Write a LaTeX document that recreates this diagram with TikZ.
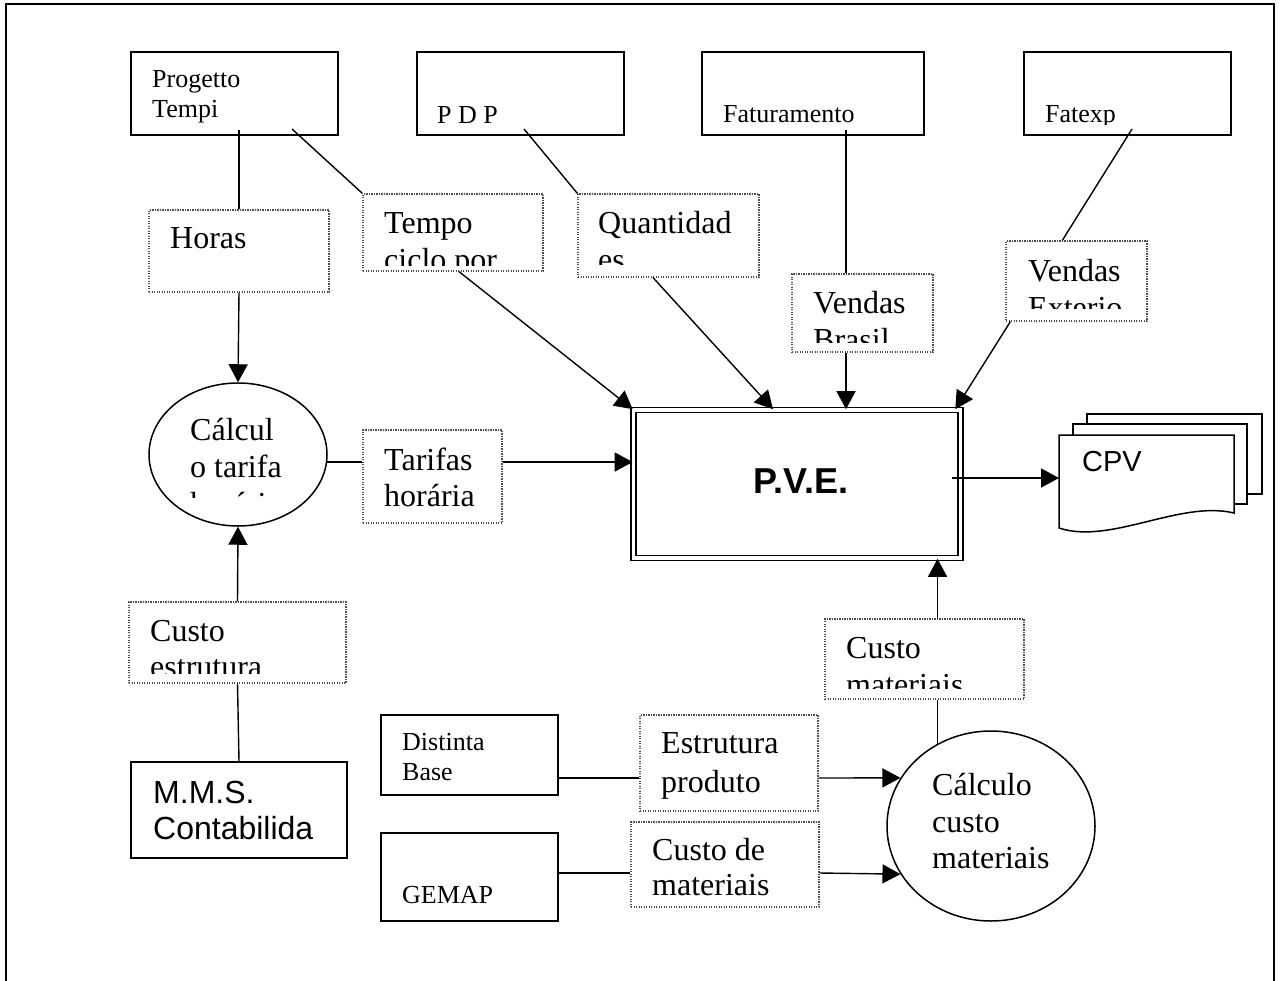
\documentclass[tikz,border=0pt]{standalone}
\usepackage{fontspec}
\setmainfont{Liberation Serif}
\setsansfont{Liberation Sans}
\usetikzlibrary{arrows.meta,shapes.geometric,calc}

% rectangle node from its two corners: style, name, x1, y1, x2, y2
\newcommand\rectnode[6]{%
  \pgfmathsetmacro\rw{#5-#3}\pgfmathsetmacro\rh{#6-#4}%
  \node[#1,minimum width=\rw pt,minimum height=\rh pt] (#2) at ({(#3+#5)/2},{(#4+#6)/2}) {};}
% one line of text, placed by its baseline start: style, name, x, y, text
\newcommand\tline[5]{\node[txt,#1] (#2) at (#3,#4) {#5};}

\begin{document}
\begin{tikzpicture}[x=1pt,y=-1pt,
  srcbox/.style={draw,line width=1.6pt,rectangle,inner sep=0pt},
  flowlbl/.style={draw=black!70,line width=1.2pt,dash pattern=on 1.2pt off 1.3pt,rectangle,inner sep=0pt},
  proc/.style={draw,line width=1.5pt,ellipse,inner sep=0pt},
  wire/.style={line width=1.4pt},
  flow/.style={line width=1.4pt,-{Triangle[length=18pt,width=19pt]}},
  txt/.style={anchor=base west,inner sep=0pt},
  small/.style={font=\fontsize{26}{30}\selectfont},
  big/.style={font=\fontsize{32}{37}\selectfont},
  sans/.style={font=\sffamily\fontsize{32}{37}\selectfont},
]
\useasboundingbox (0,0) rectangle (1282,980);

% page frame, open at the bottom
\draw[line width=2.2pt] (6,990) -- (6,4) -- (1274,4) -- (1274,990);

% ---- source systems ----
\rectnode{srcbox}{progetto}{131}{52}{338}{135}
\tline{small}{progetto-t1}{152}{87}{Progetto}
\tline{small}{progetto-t2}{152}{117}{Tempi}

\rectnode{srcbox}{pdp}{417}{52}{624}{135}
\tline{small}{pdp-t}{437}{123}{P D P}

\rectnode{srcbox}{fatur}{702}{52}{924}{135}
\tline{small}{fatur-t}{723}{122}{Faturamento}

\rectnode{srcbox}{fatexp}{1024}{52}{1231}{135}
\begin{scope}
  \clip (1024,52) rectangle (1231,124);
  \tline{small}{fatexp-t}{1045}{122}{Fatexp}
\end{scope}

\rectnode{srcbox}{distinta}{381}{715}{558}{795}
\tline{small}{distinta-t1}{402}{750}{Distinta}
\tline{small}{distinta-t2}{402}{780}{Base}

\rectnode{srcbox}{gemap}{381}{833}{558}{921}
\tline{small}{gemap-t}{402}{903}{GEMAP}

\rectnode{srcbox}{mms}{131}{762}{347}{858}
\tline{sans}{mms-t1}{153}{803}{M.M.S.}
\tline{sans}{mms-t2}{153}{839}{Contabilida}

% ---- data flows (dotted labels) ----
\rectnode{flowlbl}{horas}{149}{210}{329}{292}
\tline{big}{horas-t}{170}{248}{Horas}

\rectnode{flowlbl}{tempo}{363}{194}{543}{271}
\begin{scope}
  \clip (363,194) rectangle (543,265);
  \tline{big}{tempo-t1}{384}{233}{Tempo}
  \tline{big}{tempo-t2}{384}{270}{ciclo por}
\end{scope}

\rectnode{flowlbl}{quant}{578}{194}{759}{277}
\begin{scope}
  \clip (578,194) rectangle (759,264);
  \tline{big}{quant-t1}{598}{233}{Quantidad}
  \tline{big}{quant-t2}{598}{270}{es}
\end{scope}

\rectnode{flowlbl}{brasil}{792}{274}{933}{352}
\begin{scope}
  \clip (792,274) rectangle (933,342);
  \tline{big}{brasil-t1}{813}{313}{Vendas}
  \tline{big}{brasil-t2}{813}{350}{Brasil}
\end{scope}

\rectnode{flowlbl}{exter}{1006}{241}{1147}{321}
\begin{scope}
  \clip (1006,241) rectangle (1147,308);
  \tline{big}{exter-t1}{1028}{281}{Vendas}
  \tline{big}{exter-t2}{1028}{318}{Exterio}
\end{scope}

\rectnode{flowlbl}{tarifas}{363}{430}{502}{523}
\tline{big}{tarifas-t1}{384}{470}{Tarifas}
\tline{big}{tarifas-t2}{384}{506}{horária}

\rectnode{flowlbl}{cestr}{129}{602}{346}{683}
\begin{scope}
  \clip (129,602) rectangle (346,673);
  \tline{big}{cestr-t1}{150}{641}{Custo}
  \tline{big}{cestr-t2}{150}{677}{estrutura}
\end{scope}

\rectnode{flowlbl}{custom}{825}{619}{1024}{699}
\begin{scope}
  \clip (825,619) rectangle (1024,688);
  \tline{big}{custom-t1}{846}{658}{Custo}
  \tline{big}{custom-t2}{846}{695}{materiais}
\end{scope}

\rectnode{flowlbl}{estr}{640}{715}{818}{811}
\tline{big}{estr-t1}{661}{753}{Estrutura}
\tline{big}{estr-t2}{661}{792}{produto}

\rectnode{flowlbl}{cmat}{631}{822}{819}{907}
\tline{big}{cmat-t1}{652}{860}{Custo de}
\tline{big}{cmat-t2}{652}{895}{materiais}

% ---- processes ----
\node[proc,minimum width=178pt,minimum height=143pt] (tarifa) at (238,454.5) {};
\begin{scope}
  \clip (149,383) rectangle (327,497.5);
  \tline{big}{tarifa-t1}{190}{440}{Cálcul}
  \tline{big}{tarifa-t2}{190}{477}{o tarifa}
  \tline{big}{tarifa-t3}{190}{514}{horária}
\end{scope}

\node[proc,minimum width=208pt,minimum height=190pt] (matcalc) at (991,826) {};
\tline{big}{matcalc-t1}{932}{795}{Cálculo}
\tline{big}{matcalc-t2}{932}{832}{custo}
\tline{big}{matcalc-t3}{932}{868}{materiais}

% central system, double border
\node[draw,line width=1.6pt,double=white,double distance=3.4pt,rectangle,inner sep=0pt,
      minimum width=327pt,minimum height=148pt] (pve) at (797,484) {};
\node[anchor=base,inner sep=0pt,font=\sffamily\bfseries\fontsize{36}{40}\selectfont] (pve-t) at (801,493) {P.V.E.};

% ---- output report: stacked documents ----
\draw[line width=1.5pt] (1087,424) -- (1087,414) -- (1262,414) -- (1262,494) -- (1247,494);
\draw[line width=1.5pt] (1073,435) -- (1073,424) -- (1247,424) -- (1247,504) -- (1234,504);
\draw[line width=1.5pt,fill=white] (1059,435) -- (1234,435) -- (1234,513)
  .. controls (1180,500) and (1110,545) .. (1059,528) -- cycle;
\node[txt,font=\sffamily\fontsize{29}{34}\selectfont] (cpv) at (1082,471) {CPV};
\coordinate (cpv-in) at (1059,478);

% ---- connectors ----
\coordinate (prog-a) at (239,130);
\coordinate (prog-b) at (292,129);
\coordinate (pdp-a) at (524,129);
\coordinate (fat-a) at (846,130);
\coordinate (fx-a) at (1132,129);
\coordinate (tar-out) at (326.5,462);
\coordinate (dist-out) at (558,778);
\coordinate (gem-out) at (558,873);
\coordinate (pve-out) at (952,478);

\draw[wire] (prog-a) -- (horas.north);
\draw[flow] (horas.south) -- (tarifa.north);
\draw[wire] (prog-b) -- (tempo.north west);
\draw[flow] ($(tempo.south west)!0.533!(tempo.south east)$) -- (pve.north west);
\draw[wire] (pdp-a) -- (quant.north west);
\draw[flow] ($(quant.south west)!0.415!(quant.south east)$) -- ($(pve.north west)!0.427!(pve.north east)$);
\draw[wire] (fat-a) -- (fat-a |- brasil.north);
\draw[flow] (fat-a |- brasil.south) -- (fat-a |- pve.north);
\draw[wire] (fx-a) -- ($(exter.north west)!0.4!(exter.north east)$);
\draw[flow] ($(exter.south west)!0.035!(exter.south east)$) -- ($(pve.north east)+(-6,0)$);
\draw[wire] (tar-out) -- (tar-out -| tarifas.west);
\draw[flow] (tar-out -| tarifas.east) -- (tar-out -| pve.west);
\draw[flow] (cestr.north) -- (tarifa.south);
\draw[wire] (cestr.south) -- (mms.north);
\draw[wire] (dist-out) -- (dist-out -| estr.west);
\draw[flow] (dist-out -| estr.east) -- (matcalc.152);
\draw[wire] (gem-out) -- (gem-out -| cmat.west);
\draw[flow] (gem-out -| cmat.east) -- (matcalc.208);
\draw[wire] (matcalc.123) -- (matcalc.123 |- custom.south);
\draw[flow] (matcalc.123 |- custom.north) -- (matcalc.123 |- pve.south);
\draw[flow] (pve-out) -- (cpv-in);
\end{tikzpicture}
\end{document}
